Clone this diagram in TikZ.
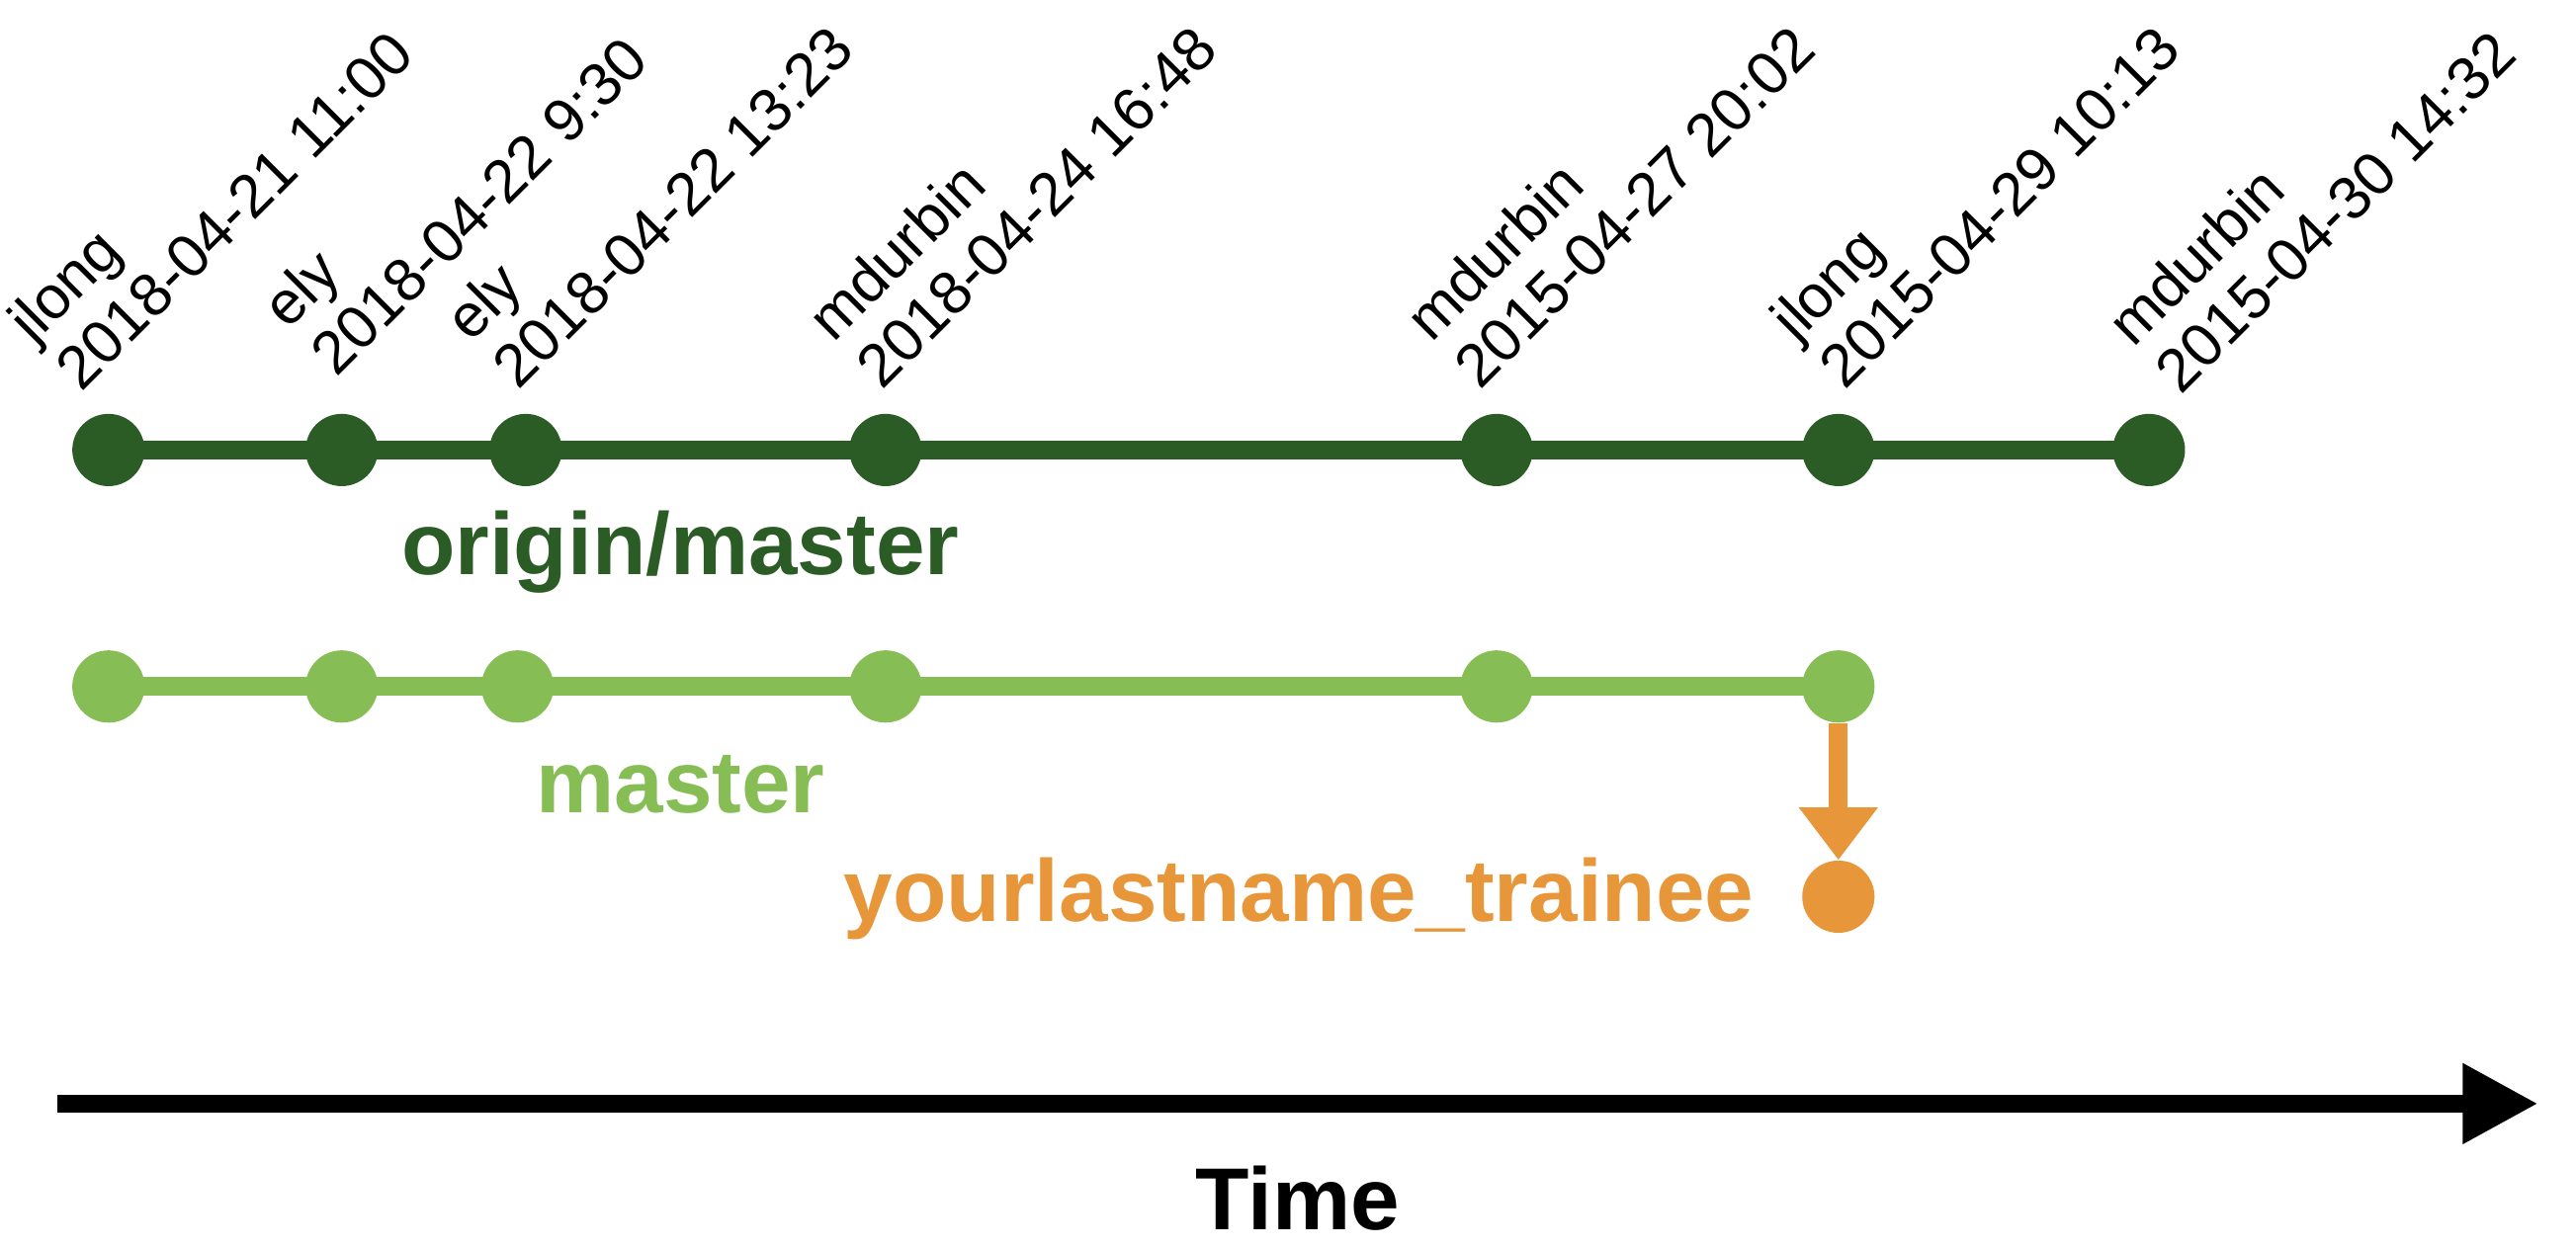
\documentclass[tikz,border=0pt]{standalone}
\usepackage{fontspec}
\setmainfont{Liberation Sans}
\usetikzlibrary{arrows.meta}
\definecolor{vertfonce}{HTML}{2C5C25}
\definecolor{vertclair}{HTML}{86BE55}
\definecolor{orangebranche}{HTML}{E8963A}
\begin{document}
\begin{tikzpicture}[x=0.02cm,y=0.02cm]
% Styles
\tikzstyle{commitorigine}=[circle,fill=vertfonce,minimum size=0.88cm,inner sep=0pt]
\tikzstyle{commitlocal}=[circle,fill=vertclair,minimum size=0.88cm,inner sep=0pt]
\tikzstyle{commitbranche}=[circle,fill=orangebranche,minimum size=0.88cm,inner sep=0pt]
\tikzstyle{lienorigine}=[line width=6.4pt,vertfonce,shorten <=-3pt,shorten >=-3pt]
\tikzstyle{lienlocal}=[line width=6.4pt,vertclair,shorten <=-3pt,shorten >=-3pt]
\tikzstyle{fleche}=[line width=6.4pt,orangebranche,-{Triangle[length=0.64cm,width=0.92cm]}]
\tikzstyle{flechetemps}=[line width=6.4pt,-{Triangle[length=0.92cm,width=0.92cm]}]
\tikzstyle{etiquette}=[rotate=45,anchor=south west,inner sep=0pt,align=left,font=\fontsize{21}{23.5}\selectfont]
\tikzstyle{branche}=[inner sep=0pt,font=\fontsize{30.5}{34}\selectfont\bfseries]
% Dimensions
\def\RangOrigine{-274}
\def\RangLocal{-418}
\def\RangBranche{-546}
\def\RangTemps{-672}
\useasboundingbox (0,0) rectangle (1568,-760.5);
% Commits origin/master
\node[commitorigine] (O1) at (66,\RangOrigine) {};
\node[commitorigine] (O2) at (208,\RangOrigine) {};
\node[commitorigine] (O3) at (320,\RangOrigine) {};
\node[commitorigine] (O4) at (539,\RangOrigine) {};
\node[commitorigine] (O5) at (911,\RangOrigine) {};
\node[commitorigine] (O6) at (1119,\RangOrigine) {};
\node[commitorigine] (O7) at (1308,\RangOrigine) {};
% Commits master
\node[commitlocal] (L1) at (66,\RangLocal) {};
\node[commitlocal] (L2) at (208,\RangLocal) {};
\node[commitlocal] (L3) at (315,\RangLocal) {};
\node[commitlocal] (L4) at (539,\RangLocal) {};
\node[commitlocal] (L5) at (911,\RangLocal) {};
\node[commitlocal] (L6) at (1119,\RangLocal) {};
% Commit de la branche
\node[commitbranche] (B1) at (1119,\RangBranche) {};
% Etiquettes
\node[etiquette] (E1) at ([shift={(-16,34)}]O1) {jlong\\2018-04-21 11:00};
\node[etiquette] (E2) at ([shift={(-3,43)}]O2) {ely\\2018-04-22 9:30};
\node[etiquette] (E3) at ([shift={(-4,35)}]O3) {ely\\2018-04-22 13:23};
\node[etiquette] (E4) at ([shift={(-2,35)}]O4) {mdurbin\\2018-04-24 16:48};
\node[etiquette] (E5) at ([shift={(-10,35)}]O5) {mdurbin\\2015-04-27 20:02};
\node[etiquette] (E6) at ([shift={(4,35)}]O6) {jlong\\2015-04-29 10:13};
\node[etiquette] (E7) at ([shift={(20,32)}]O7) {mdurbin\\2015-04-30 14:32};
% Noms des branches
\node[branche,vertfonce,anchor=base west] (NomOrigine) at (244,-350) {origin/master};
\node[branche,vertclair,anchor=base west] (NomLocal) at (326,-495) {master};
\node[branche,orangebranche,anchor=base east] (NomBranche) at (1068,-561) {yourlastname\_trainee};
\node[branche,anchor=base] (Temps) at (790,-749) {Time};
% Axe du temps
\coordinate (T0) at (35,\RangTemps);
\coordinate (T1) at (1545,\RangTemps);
% Liens
\draw[lienorigine] (O1)--(O2);
\draw[lienorigine] (O2)--(O3);
\draw[lienorigine] (O3)--(O4);
\draw[lienorigine] (O4)--(O5);
\draw[lienorigine] (O5)--(O6);
\draw[lienorigine] (O6)--(O7);
\draw[lienlocal] (L1)--(L2);
\draw[lienlocal] (L2)--(L3);
\draw[lienlocal] (L3)--(L4);
\draw[lienlocal] (L4)--(L5);
\draw[lienlocal] (L5)--(L6);
\draw[fleche] (L6)--(B1);
\draw[flechetemps] (T0)--(T1);
\end{tikzpicture}
\end{document}
